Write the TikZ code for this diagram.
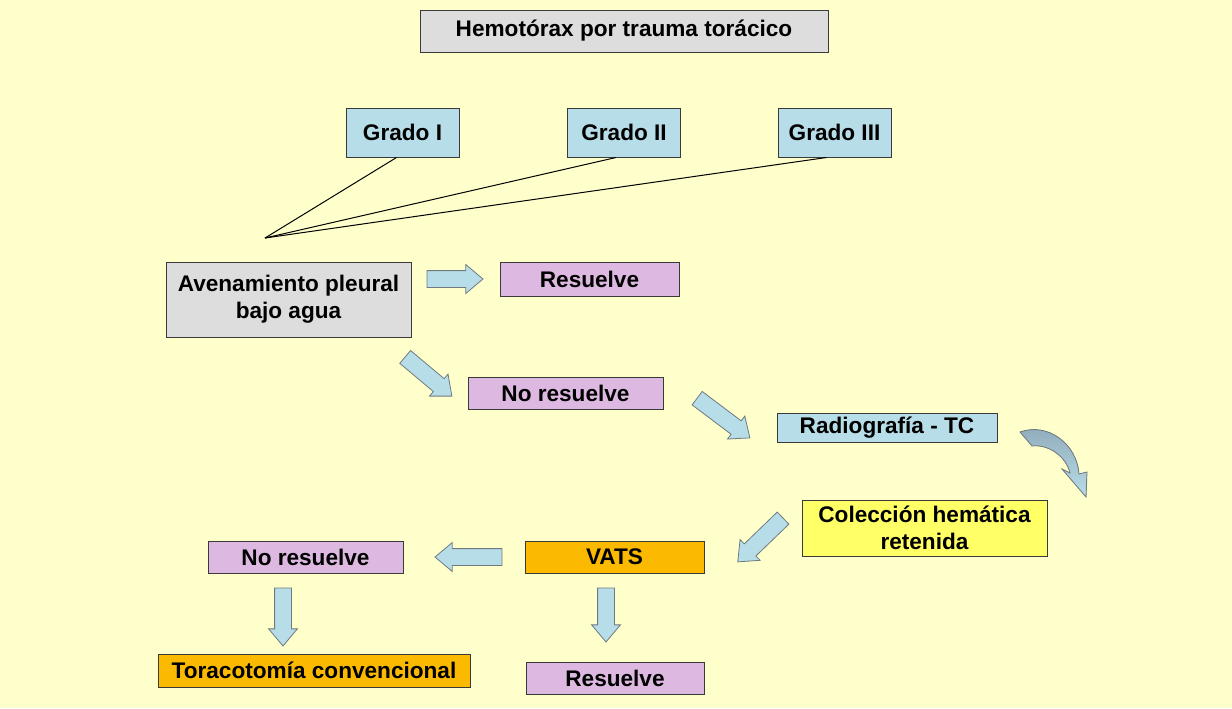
\documentclass[tikz,border=0pt]{standalone}
\usepackage{fontspec}
\setmainfont{Liberation Sans}
\usetikzlibrary{shapes.arrows}
\definecolor{bg}{HTML}{FFFFCC}
\definecolor{edge}{HTML}{3A3A3A}
\definecolor{greyfill}{HTML}{DDDDDD}
\definecolor{bluefill}{HTML}{B7DDE8}
\definecolor{lilacfill}{HTML}{DDB9E1}
\definecolor{yellowfill}{HTML}{FFFF66}
\definecolor{orangefill}{HTML}{FBBA00}
\definecolor{arrowedge}{HTML}{6F7A80}
\definecolor{curvetop}{HTML}{8FA9B8}
\tikzset{
  block/.style={draw=edge, line width=0.5pt, inner sep=0pt, align=center,
                font=\fontsize{11.3}{13.5}\selectfont\bfseries},
  greybox/.style={block, fill=greyfill},
  bluebox/.style={block, fill=bluefill},
  lilacbox/.style={block, fill=lilacfill},
  yellowbox/.style={block, fill=yellowfill},
  orangebox/.style={block, fill=orangefill},
  fatarrow/.style={single arrow, draw=arrowedge, fill=bluefill, line width=0.4pt,
                   inner xsep=0pt, inner ysep=4pt, single arrow head extend=3pt,
                   single arrow tip angle=80}
}
\begin{document}
\begin{tikzpicture}[x=0.5pt,y=-0.5pt]
  \fill[bg] (0,0) rectangle (1232,708);
  \useasboundingbox (0,0) rectangle (1232,708);
  % title and grades
  \node[greybox,minimum width=204pt,minimum height=21pt] (title) at (624,31) {Hemotórax por trauma torácico};
  \node[bluebox,minimum width=56.5pt,minimum height=24.5pt] (g1) at (402.5,132.5) {Grado I};
  \node[bluebox,minimum width=56.5pt,minimum height=24.5pt] (g2) at (624,132.5) {Grado II};
  \node[bluebox,minimum width=56.5pt,minimum height=24.5pt] (g3) at (834.5,132.5) {Grado III};
  \coordinate (join) at (265,238);
  \draw[line width=0.5pt] ([xshift=-3pt]g1.south) -- (join);
  \draw[line width=0.5pt] ([xshift=-4pt]g2.south) -- (join);
  \draw[line width=0.5pt] ([xshift=-4pt]g3.south) -- (join);
  % drainage
  \node[greybox,minimum width=122.5pt,minimum height=37.5pt] (aven) at (288.5,299.5) {Avenamiento pleural\\bajo agua};
  \node[lilacbox,minimum width=89.5pt,minimum height=17pt] (res1) at (589.5,279) {Resuelve};
  \node[lilacbox,minimum width=97.5pt,minimum height=16pt] (nores1) at (565.5,393) {No resuelve};
  \node[bluebox,minimum width=110pt,minimum height=14.5pt] (rx) at (887,427.5) {Radiografía - TC};
  \node[yellowbox,minimum width=122.5pt,minimum height=28pt] (col) at (924.5,528) {Colección hemática\\retenida};
  % surgery
  \node[orangebox,minimum width=89.5pt,minimum height=16pt] (vats) at (614.5,557) {VATS};
  \node[lilacbox,minimum width=97.5pt,minimum height=16pt] (nores2) at (305.5,557) {No resuelve};
  \node[orangebox,minimum width=156pt,minimum height=16.5pt] (tora) at (314,670.5) {Toracotomía convencional};
  \node[lilacbox,minimum width=89pt,minimum height=16pt] (res2) at (615,678) {Resuelve};
  % block arrows
  \node[fatarrow,minimum height=28pt] (a1) at (450,279) {};
  \node[fatarrow,minimum height=30.5pt,rotate=-40] (a2) at (424.7,373.3) {};
  \node[fatarrow,minimum height=33pt,rotate=-37] (a3) at (719.5,415) {};
  \node[fatarrow,minimum height=31.5pt,rotate=224] (a4) at (764,536.5) {};
  \node[fatarrow,minimum height=33.5pt,rotate=180] (a5) at (473.5,557) {};
  \node[fatarrow,minimum height=29pt,rotate=-90] (a6) at (283,612) {};
  \node[fatarrow,minimum height=27pt,rotate=-90] (a7) at (606,610) {};
  % curved arrow
  \fill[top color=curvetop,bottom color=bluefill,draw=arrowedge,line width=0.4pt]
    (1020,432) .. controls (1048,422) and (1077,444) .. (1079,474)
    -- (1087,472) -- (1086,497) -- (1062,469) -- (1070,473)
    .. controls (1066,456) and (1048,444) .. (1032,446) -- cycle;
\end{tikzpicture}
\end{document}
